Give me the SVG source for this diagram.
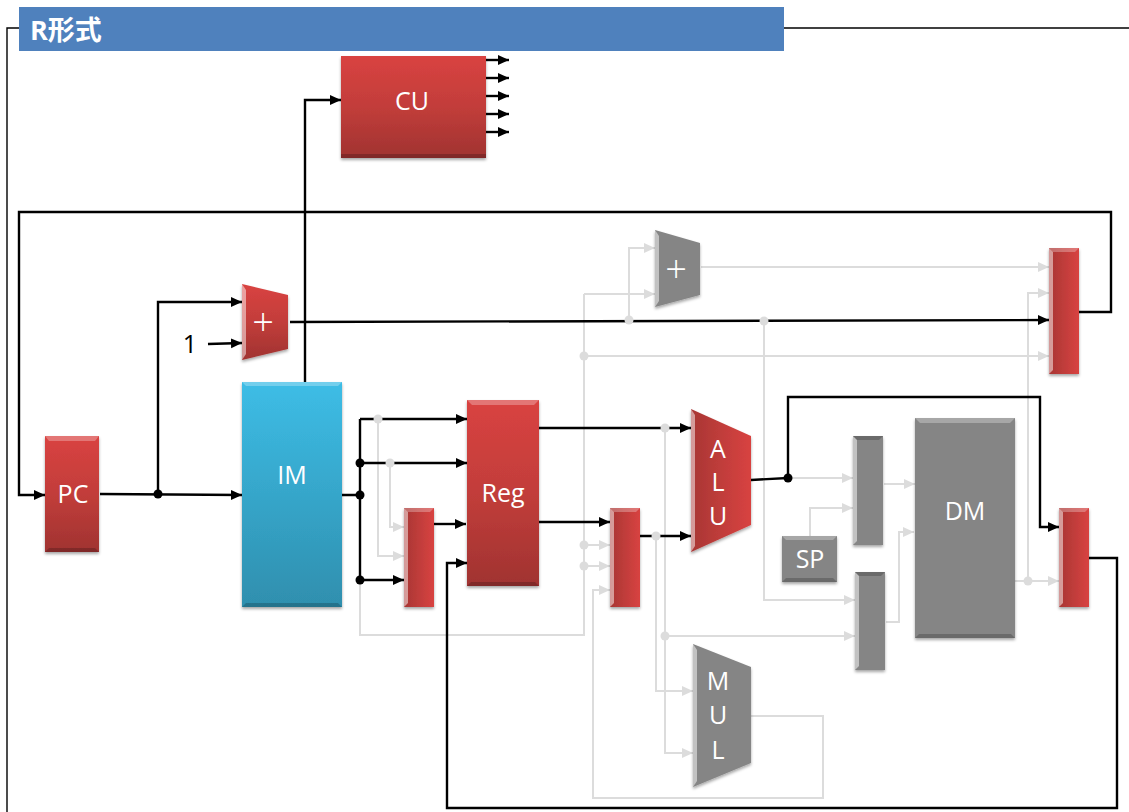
<svg xmlns="http://www.w3.org/2000/svg" width="1129" height="812" viewBox="0 0 1129 812">
<style>
.t{font-family:"Open Sans","Noto Sans",sans-serif;font-size:25px;fill:#fff;text-anchor:middle}
.p{font-family:"Open Sans","Noto Sans",sans-serif;font-size:38px;font-weight:300;fill:#fff;text-anchor:middle}
.k{fill:none;stroke:#000;stroke-width:2.4}
.kt{fill:none;stroke:#000;stroke-width:1.4}
.g{fill:none;stroke:#dcdcdc;stroke-width:2}
.ka{marker-end:url(#ak)}
.ga{marker-end:url(#ag)}
.dk{fill:#000}
.dg{fill:#dcdcdc}
.rv{fill:url(#rv);filter:url(#sh)}
.rh{fill:url(#rh);filter:url(#sh)}
.bl{fill:url(#bl);filter:url(#sh)}
.gr{fill:#858585;filter:url(#sh)}
.hi{fill:#fff;opacity:.28}
.hi2{fill:#fff;opacity:.5}
.lo{fill:#000;opacity:.2}
</style>
<defs>
<marker id="ak" markerUnits="userSpaceOnUse" markerWidth="12" markerHeight="12" refX="11" refY="6" orient="auto"><path d="M0 1L11 6L0 11Z" fill="#000"/></marker>
<marker id="ag" markerUnits="userSpaceOnUse" markerWidth="12" markerHeight="12" refX="11" refY="6" orient="auto"><path d="M0 1L11 6L0 11Z" fill="#dcdcdc"/></marker>
<linearGradient id="rv" x1="0" y1="0" x2="0" y2="1"><stop offset="0" stop-color="#d94341"/><stop offset=".5" stop-color="#c23d3a"/><stop offset="1" stop-color="#a03331"/></linearGradient>
<linearGradient id="rh" x1="0" y1="0" x2="1" y2="0"><stop offset="0" stop-color="#a83634"/><stop offset="1" stop-color="#d84341"/></linearGradient>
<linearGradient id="bl" x1="0" y1="0" x2="0" y2="1"><stop offset="0" stop-color="#3dbde6"/><stop offset="1" stop-color="#2f8fae"/></linearGradient>
<filter id="sh" x="-20%" y="-20%" width="140%" height="140%"><feDropShadow dx="0" dy="2" stdDeviation="1.5" flood-color="#000" flood-opacity=".35"/></filter>
</defs>
<rect width="1129" height="812" fill="#fff"/>
<g id="connectors">
<path class="kt" d="M19 28H7V812"/>
<path class="kt" d="M784 28H1129"/>
<path class="g" d="M360 580V635H584V294"/><path class="g ga" d="M584 294H655"/>
<path class="g ga" d="M378 419V556H404"/>
<path class="g ga" d="M390 463V527H404"/>
<path class="g ga" d="M584 545H610"/>
<path class="g ga" d="M584 566H610"/>
<path class="g ga" d="M751 716H823V798H593V590H610"/>
<path class="g ga" d="M665 428V753H693"/>
<path class="g ga" d="M656 536V691H693"/>
<path class="g ga" d="M665 636H855"/>
<path class="g ga" d="M629 320V248H655"/>
<path class="g ga" d="M701 267H1049"/>
<path class="g ga" d="M584 356H1049"/>
<path class="g ga" d="M764 321V600H855"/>
<path class="g ga" d="M1028 581V293H1049"/>
<path class="g ga" d="M1015 581H1059"/>
<path class="g ga" d="M788 478H853"/>
<path class="g ga" d="M810 536V508H853"/>
<path class="g ga" d="M884 484H915"/>
<path class="g ga" d="M886 622H899V532H914"/>
<path class="k ka" d="M305 382V100H341"/>
<path class="k ka" d="M486 60H509"/><path class="k ka" d="M486 78H509"/><path class="k ka" d="M486 96H509"/><path class="k ka" d="M486 114H509"/><path class="k ka" d="M486 132H509"/>
<path class="k ka" d="M1079 312H1111V212H19V495H45"/>
<path class="k ka" d="M100 494L242 495"/>
<path class="k ka" d="M158 494V302H242"/>
<path class="k ka" d="M208 344L242 343"/>
<path class="k ka" d="M290 322L1049 320"/>
<path class="k" d="M342 495H360M360 580V419"/>
<path class="k ka" d="M360 419H467"/>
<path class="k ka" d="M360 463H467"/>
<path class="k ka" d="M360 580H404"/>
<path class="k ka" d="M434 524H466"/>
<path class="k ka" d="M1089 558H1117V808H447V563H467"/>
<path class="k ka" d="M539 428H691"/>
<path class="k ka" d="M539 522H610"/>
<path class="k ka" d="M640 536H691"/>
<path class="k" d="M751 480L788 478"/>
<path class="k ka" d="M788 478V397H1040V527H1059"/>
<circle class="dk" cx="158" cy="494" r="4.5"/>
<circle class="dk" cx="360" cy="463" r="4.5"/>
<circle class="dk" cx="360" cy="495" r="4.5"/>
<circle class="dk" cx="360" cy="580" r="4.5"/>
<circle class="dk" cx="788" cy="478" r="4.5"/>
<circle class="dg" cx="378" cy="419" r="4.5"/>
<circle class="dg" cx="390" cy="463" r="4.5"/>
<circle class="dg" cx="584" cy="545" r="4.5"/>
<circle class="dg" cx="584" cy="566" r="4.5"/>
<circle class="dg" cx="584" cy="356" r="4.5"/>
<circle class="dg" cx="629" cy="320" r="4.5"/>
<circle class="dg" cx="764" cy="321" r="4.5"/>
<circle class="dg" cx="665" cy="428" r="4.5"/>
<circle class="dg" cx="656" cy="536" r="4.5"/>
<circle class="dg" cx="665" cy="636" r="4.5"/>
<circle class="dg" cx="1028" cy="581" r="4.5"/>
</g>
<g id="title"><rect x="19" y="7" width="765" height="44" fill="#4f81bd"/><text x="30" y="40" font-family="'Open Sans','Noto Sans CJK JP',sans-serif" font-size="27" font-weight="700" fill="#fff">R形式</text></g>
<g id="cu"><rect class="rv" x="341" y="56" width="145" height="102"/><rect class="lo" x="341" y="154" width="145" height="4"/><text class="t" x="412" y="110">CU</text></g>
<g id="pc"><rect class="rv" x="45" y="436" width="54" height="116"/><path class="hi" d="M45 436H99L95 441H49Z"/><path class="lo" d="M45 552H99L95 548H49Z"/><text class="t" x="73" y="503">PC</text></g>
<g id="im"><rect class="bl" x="242" y="382" width="100" height="225"/><path class="hi" d="M242 382H342L338 386H246Z"/><path class="lo" d="M242 607H342L338 603H246Z"/><text class="t" x="292" y="484">IM</text></g>
<g id="reg"><rect class="rv" x="467" y="400" width="72" height="186"/><path class="hi" d="M467 400H539L534 405H472Z"/><path class="lo" d="M467 586H539L535 582H471Z"/><text class="t" x="503" y="502">Reg</text></g>
<g id="dm"><rect class="gr" x="915" y="418" width="100" height="220"/><path class="hi" d="M915 418H1015L1010 423H920Z"/><path class="lo" d="M915 638H1015L1011 634H919Z"/><text class="t" x="965" y="520">DM</text></g>
<g id="sp"><rect class="gr" x="782" y="536" width="55" height="46"/><path class="hi" d="M782 536H837L833 540H786Z"/><path class="lo" d="M782 582H837L833 578H786Z"/><text class="t" x="810" y="568">SP</text></g>
<g id="pc-adder"><path class="rv" d="M242 284L288 295V349L242 360Z"/><path class="hi2" d="M242 284L246 290V354L242 360Z"/><text class="p" x="263" y="336">+</text></g>
<g id="gray-adder"><path class="gr" d="M655 230L700 243V295L655 307Z"/><path class="hi2" d="M655 230L659 236V301L655 307Z"/><text class="p" x="676" y="283">+</text></g>
<g id="alu"><path class="rh" d="M691 409L751 436V525L691 552Z"/><path class="hi2" d="M691 409L695 415V546L691 552Z"/><text class="t" x="718" y="458">A</text><text class="t" x="718" y="491">L</text><text class="t" x="718" y="525">U</text></g>
<g id="mul"><path class="gr" d="M693 644L751 667V763L693 787Z"/><path class="hi2" d="M693 644L697 650V781L693 787Z"/><text class="t" x="718" y="690">M</text><text class="t" x="718" y="724">U</text><text class="t" x="718" y="759">L</text></g>
<g id="mux-reg"><rect class="rh" x="404" y="508" width="30" height="99"/><path class="hi2" d="M404 508L408 512V603L404 607Z"/><path class="hi" d="M404 508H434L430 512H408Z"/></g>
<g id="mux-alu"><rect class="rh" x="610" y="508" width="30" height="99"/><path class="hi2" d="M610 508L614 512V603L610 607Z"/><path class="hi" d="M610 508H640L636 512H614Z"/></g>
<g id="mux-pc"><rect class="rh" x="1049" y="248" width="30" height="126"/><path class="hi2" d="M1049 248L1053 252V370L1049 374Z"/><path class="hi" d="M1049 248H1079L1075 252H1053Z"/></g>
<g id="mux-wb"><rect class="rh" x="1059" y="508" width="30" height="99"/><path class="hi2" d="M1059 508L1063 512V603L1059 607Z"/><path class="hi" d="M1059 508H1089L1085 512H1063Z"/></g>
<g id="mux-dm-a"><rect class="gr" x="853" y="436" width="30" height="109"/><path class="hi2" d="M853 436L857 440V541L853 545Z"/><path class="lo" d="M853 436H883L879 440H857Z"/></g>
<g id="mux-dm-b"><rect class="gr" x="855" y="572" width="30" height="98"/><path class="hi2" d="M855 572L859 576V666L855 670Z"/><path class="lo" d="M855 572H885L881 576H859Z"/></g>
<text id="one" x="190" y="353" font-family="'Open Sans','Noto Sans',sans-serif" font-size="25" fill="#000" text-anchor="middle">1</text>
</svg>
